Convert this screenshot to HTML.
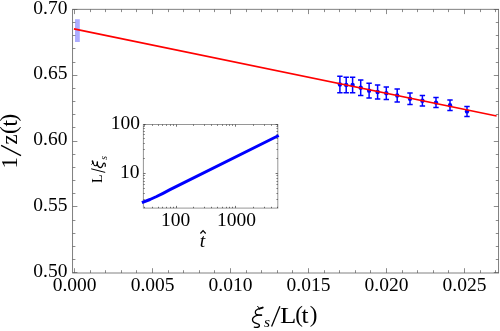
<!DOCTYPE html>
<html><head><meta charset="utf-8"><title>plot</title>
<style>
html,body{margin:0;padding:0;background:#fff;overflow:hidden}
svg{display:block;font-family:"Liberation Serif",serif;filter:blur(0.35px);}
text{fill:#000}
</style></head><body>
<svg width="500" height="331" viewBox="0 0 500 331">
<rect x="0" y="0" width="500" height="331" fill="#fff"/>
<rect x="75" y="19.2" width="4.8" height="22.8" fill="#adadff"/>
<rect x="72.6" y="9.3" width="426.0" height="263.7" fill="none" stroke="#6a6a6a" stroke-width="0.85"/>
<path d="M74.50 273.0v-4.8M74.50 9.3v4.8M90.50 273.0v-2.8M90.50 9.3v2.8M105.50 273.0v-2.8M105.50 9.3v2.8M121.50 273.0v-2.8M121.50 9.3v2.8M136.50 273.0v-2.8M136.50 9.3v2.8M152.50 273.0v-4.8M152.50 9.3v4.8M168.50 273.0v-2.8M168.50 9.3v2.8M183.50 273.0v-2.8M183.50 9.3v2.8M199.50 273.0v-2.8M199.50 9.3v2.8M214.50 273.0v-2.8M214.50 9.3v2.8M230.50 273.0v-4.8M230.50 9.3v4.8M246.50 273.0v-2.8M246.50 9.3v2.8M261.50 273.0v-2.8M261.50 9.3v2.8M277.50 273.0v-2.8M277.50 9.3v2.8M292.50 273.0v-2.8M292.50 9.3v2.8M308.50 273.0v-4.8M308.50 9.3v4.8M324.50 273.0v-2.8M324.50 9.3v2.8M339.50 273.0v-2.8M339.50 9.3v2.8M355.50 273.0v-2.8M355.50 9.3v2.8M370.50 273.0v-2.8M370.50 9.3v2.8M386.50 273.0v-4.8M386.50 9.3v4.8M402.50 273.0v-2.8M402.50 9.3v2.8M417.50 273.0v-2.8M417.50 9.3v2.8M433.50 273.0v-2.8M433.50 9.3v2.8M448.50 273.0v-2.8M448.50 9.3v2.8M464.50 273.0v-4.8M464.50 9.3v4.8M480.50 273.0v-2.8M480.50 9.3v2.8M495.50 273.0v-2.8M495.50 9.3v2.8M72.6 272.50h4.8M498.6 272.50h-4.8M72.6 259.50h2.8M498.6 259.50h-2.8M72.6 246.50h2.8M498.6 246.50h-2.8M72.6 233.50h2.8M498.6 233.50h-2.8M72.6 220.50h2.8M498.6 220.50h-2.8M72.6 206.50h4.8M498.6 206.50h-4.8M72.6 193.50h2.8M498.6 193.50h-2.8M72.6 180.50h2.8M498.6 180.50h-2.8M72.6 167.50h2.8M498.6 167.50h-2.8M72.6 154.50h2.8M498.6 154.50h-2.8M72.6 141.50h4.8M498.6 141.50h-4.8M72.6 127.50h2.8M498.6 127.50h-2.8M72.6 114.50h2.8M498.6 114.50h-2.8M72.6 101.50h2.8M498.6 101.50h-2.8M72.6 88.50h2.8M498.6 88.50h-2.8M72.6 75.50h4.8M498.6 75.50h-4.8M72.6 62.50h2.8M498.6 62.50h-2.8M72.6 48.50h2.8M498.6 48.50h-2.8M72.6 35.50h2.8M498.6 35.50h-2.8M72.6 22.50h2.8M498.6 22.50h-2.8M72.6 9.50h4.8M498.6 9.50h-4.8" stroke="#5a5a5a" stroke-width="0.7" fill="none"/>
<text x="74.60" y="290.5" font-size="19.5" text-anchor="middle">0.000</text>
<text x="152.57" y="290.5" font-size="19.5" text-anchor="middle">0.005</text>
<text x="230.55" y="290.5" font-size="19.5" text-anchor="middle">0.010</text>
<text x="308.52" y="290.5" font-size="19.5" text-anchor="middle">0.015</text>
<text x="386.50" y="290.5" font-size="19.5" text-anchor="middle">0.020</text>
<text x="464.48" y="290.5" font-size="19.5" text-anchor="middle">0.025</text>
<text x="67.4" y="276.90" font-size="19.5" text-anchor="end">0.50</text>
<text x="67.4" y="211.07" font-size="19.5" text-anchor="end">0.55</text>
<text x="67.4" y="145.25" font-size="19.5" text-anchor="end">0.60</text>
<text x="67.4" y="79.42" font-size="19.5" text-anchor="end">0.65</text>
<text x="67.4" y="13.60" font-size="19.5" text-anchor="end">0.70</text>
<path d="M339.9 76.3V92.7M337.2 76.3h5.4M337.2 92.7h5.4M346.2 77.2V92.7M343.5 77.2h5.4M343.5 92.7h5.4M352.6 77.2V92.7M349.90000000000003 77.2h5.4M349.90000000000003 92.7h5.4M360.7 80V95.4M358.0 80h5.4M358.0 95.4h5.4M369.1 83.2V98.1M366.40000000000003 83.2h5.4M366.40000000000003 98.1h5.4M377.6 84.9V99M374.90000000000003 84.9h5.4M374.90000000000003 99h5.4M386.3 86.9V99.6M383.6 86.9h5.4M383.6 99.6h5.4M397.2 89V102.1M394.5 89h5.4M394.5 102.1h5.4M410 93V104.6M407.3 93h5.4M407.3 104.6h5.4M422.4 95.6V106M419.7 95.6h5.4M419.7 106h5.4M436 97.6V107.6M433.3 97.6h5.4M433.3 107.6h5.4M450 100V110.6M447.3 100h5.4M447.3 110.6h5.4M467 106.4V116.4M464.3 106.4h5.4M464.3 116.4h5.4" stroke="#0000ff" stroke-width="1.5" fill="none"/>
<circle cx="339.9" cy="84.50" r="2.2" fill="#0000ff"/>
<circle cx="346.2" cy="84.95" r="2.2" fill="#0000ff"/>
<circle cx="352.6" cy="84.95" r="2.2" fill="#0000ff"/>
<circle cx="360.7" cy="87.70" r="2.2" fill="#0000ff"/>
<circle cx="369.1" cy="90.65" r="2.2" fill="#0000ff"/>
<circle cx="377.6" cy="91.95" r="2.2" fill="#0000ff"/>
<circle cx="386.3" cy="93.25" r="2.2" fill="#0000ff"/>
<circle cx="397.2" cy="95.55" r="2.2" fill="#0000ff"/>
<circle cx="410" cy="98.80" r="2.2" fill="#0000ff"/>
<circle cx="422.4" cy="100.80" r="2.2" fill="#0000ff"/>
<circle cx="436" cy="102.60" r="2.2" fill="#0000ff"/>
<circle cx="450" cy="105.30" r="2.2" fill="#0000ff"/>
<circle cx="467" cy="111.40" r="2.2" fill="#0000ff"/>
<line x1="73.9" y1="28.86" x2="496.6" y2="116" stroke="#ff0000" stroke-width="1.6"/>
<g transform="translate(251.5,324) scale(1.0)" fill="none" stroke="#000" stroke-linecap="round" stroke-linejoin="round"><path d="M6.1 -17.7L7.2 -16.4" stroke-width="1.00"/><path d="M7.9 -15.3L11.2 -16.4" stroke-width="1.90"/><path d="M7.9 -15.3C5.5 -14.6 3.8 -13.4 3.8 -11.8C3.8 -10.2 5.0 -9.2 6.5 -9.0" stroke-width="1.20"/><path d="M6.2 -9.0L9.9 -8.8" stroke-width="1.70"/><path d="M6.2 -8.9C3.0 -8.0 1.0 -6.3 1.0 -4.2C1.0 -2.0 3.2 -0.9 5.5 -0.4C7.5 0.0 8.0 0.8 7.9 1.8C7.7 3.2 5.5 3.8 2.8 3.2" stroke-width="1.35"/></g>
<text x="263.9" y="326.6" font-size="15.5" font-style="italic">s</text>
<line x1="271.6" y1="326.6" x2="279.9" y2="306.2" stroke="#000" stroke-width="1.3"/>
<text transform="translate(279.9,323.1) scale(1.16,1)" font-size="23">L</text>
<text x="295.2" y="321.9" font-size="23">(</text>
<text transform="translate(301.4,323.1) scale(1.1,1)" font-size="23">t</text>
<text x="309.8" y="321.9" font-size="23">)</text>
<g transform="translate(17.2,166.6) rotate(-90)">
<text x="-2" y="0" font-size="23">1</text>
<line x1="10.9" y1="3.8" x2="21.3" y2="-16.1" stroke="#000" stroke-width="1.3"/>
<text x="22 32.6 40.0 45.2" y="0 -1.1 0 -1.1" font-size="23">z(t)</text>
</g>
<rect x="143.4" y="124.5" width="134.4" height="83.6" fill="#fff" stroke="#969696" stroke-width="1"/>
<path d="M144.50 208.1v-1.3M144.50 124.5v1.3M152.50 208.1v-1.3M152.50 124.5v1.3M158.50 208.1v-1.3M158.50 124.5v1.3M162.50 208.1v-1.3M162.50 124.5v1.3M166.50 208.1v-1.3M166.50 124.5v1.3M170.50 208.1v-1.3M170.50 124.5v1.3M173.50 208.1v-1.3M173.50 124.5v1.3M176.50 208.1v-2.2M176.50 124.5v2.2M193.50 208.1v-1.3M193.50 124.5v1.3M204.50 208.1v-1.3M204.50 124.5v1.3M211.50 208.1v-1.3M211.50 124.5v1.3M217.50 208.1v-1.3M217.50 124.5v1.3M222.50 208.1v-1.3M222.50 124.5v1.3M226.50 208.1v-1.3M226.50 124.5v1.3M229.50 208.1v-1.3M229.50 124.5v1.3M232.50 208.1v-1.3M232.50 124.5v1.3M235.50 208.1v-2.2M235.50 124.5v2.2M253.50 208.1v-1.3M253.50 124.5v1.3M264.50 208.1v-1.3M264.50 124.5v1.3M271.50 208.1v-1.3M271.50 124.5v1.3M277.50 208.1v-1.3M277.50 124.5v1.3M143.4 199.50h1.3M277.8 199.50h-1.3M143.4 193.50h1.3M277.8 193.50h-1.3M143.4 188.50h1.3M277.8 188.50h-1.3M143.4 184.50h1.3M277.8 184.50h-1.3M143.4 181.50h1.3M277.8 181.50h-1.3M143.4 178.50h1.3M277.8 178.50h-1.3M143.4 175.50h1.3M277.8 175.50h-1.3M143.4 173.50h2.2M277.8 173.50h-2.2M143.4 158.50h1.3M277.8 158.50h-1.3M143.4 149.50h1.3M277.8 149.50h-1.3M143.4 143.50h1.3M277.8 143.50h-1.3M143.4 138.50h1.3M277.8 138.50h-1.3M143.4 134.50h1.3M277.8 134.50h-1.3M143.4 131.50h1.3M277.8 131.50h-1.3M143.4 128.50h1.3M277.8 128.50h-1.3M143.4 126.50h1.3M277.8 126.50h-1.3M143.4 124.50h2.2M277.8 124.50h-2.2" stroke="#333" stroke-width="0.7" fill="none"/>
<text x="140" y="129" font-size="19.5" text-anchor="end">100</text>
<text x="139.5" y="178" font-size="19.5" text-anchor="end">10</text>
<text x="175.5" y="226.2" font-size="19.5" text-anchor="middle">100</text>
<text x="236.4" y="226.2" font-size="19.5" text-anchor="middle">1000</text>
<path d="M141.9 202.7L150 199.5L156.6 196.5L163 193.3L170 189.7L278.7 135.5" stroke="#0000ff" stroke-width="3" fill="none" stroke-linejoin="round"/>
<text x="202.4" y="246.8" font-size="19.5" font-style="italic" text-anchor="middle">t</text>
<path d="M200.4 233.5L203.05 230.5L205.7 233.5" fill="none" stroke="#000" stroke-width="1.15" stroke-linejoin="miter"/>
<g transform="translate(101.6,183) rotate(-90)">
<text x="0" y="0" font-size="14">L</text>
<line x1="10.6" y1="3.6" x2="14.2" y2="-10.4" stroke="#000" stroke-width="1"/>
<g transform="translate(14.7,1.5) scale(0.65)" fill="none" stroke="#000" stroke-linecap="round" stroke-linejoin="round"><path d="M6.1 -17.7L7.2 -16.4" stroke-width="1.30"/><path d="M7.9 -15.3L11.2 -16.4" stroke-width="2.47"/><path d="M7.9 -15.3C5.5 -14.6 3.8 -13.4 3.8 -11.8C3.8 -10.2 5.0 -9.2 6.5 -9.0" stroke-width="1.56"/><path d="M6.2 -9.0L9.9 -8.8" stroke-width="2.21"/><path d="M6.2 -8.9C3.0 -8.0 1.0 -6.3 1.0 -4.2C1.0 -2.0 3.2 -0.9 5.5 -0.4C7.5 0.0 8.0 0.8 7.9 1.8C7.7 3.2 5.5 3.8 2.8 3.2" stroke-width="1.76"/></g>
<text x="23.2" y="5.3" font-size="9.5" font-style="italic">s</text>
</g>
</svg>
</body></html>
